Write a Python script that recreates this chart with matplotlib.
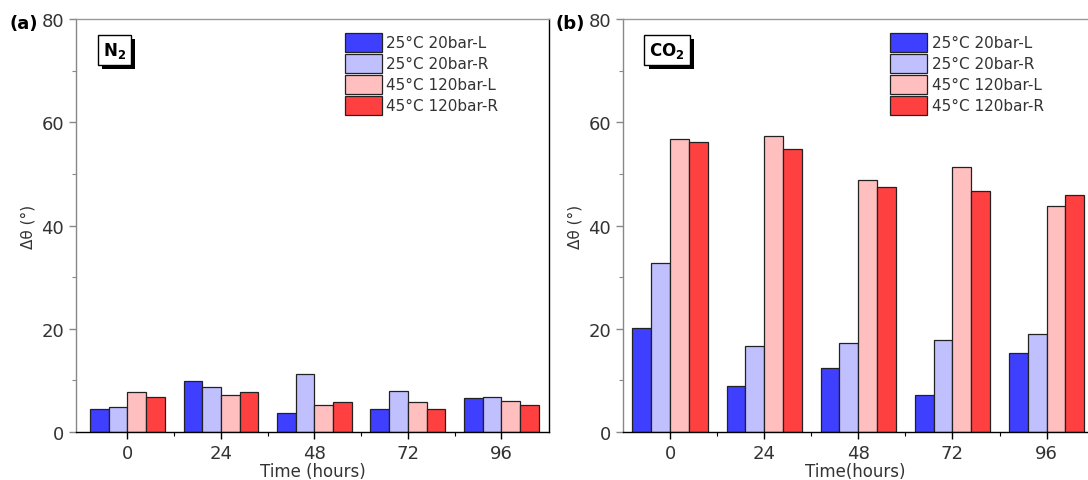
import matplotlib
matplotlib.use("Agg")
import matplotlib.pyplot as plt
import matplotlib.patheffects as pe
import numpy as np

# data
hours = ["0", "24", "48", "72", "96"]
series = ["25°C 20bar-L", "25°C 20bar-R", "45°C 120bar-L", "45°C 120bar-R"]
colors = ["#3f3fff", "#c0c0ff", "#ffbfbf", "#ff4040"]

n2_vals = [
    [4.5, 9.8, 3.6, 4.5, 6.6],    # 25C 20bar-L
    [4.8, 8.7, 11.2, 7.9, 6.8],   # 25C 20bar-R
    [7.7, 7.2, 5.2, 5.8, 6.1],    # 45C 120bar-L
    [6.8, 7.7, 5.8, 4.5, 5.2],    # 45C 120bar-R
]
co2_vals = [
    [20.2, 9.0, 12.4, 7.2, 15.4],
    [32.8, 16.6, 17.2, 17.8, 19.0],
    [56.7, 57.4, 48.9, 51.3, 43.7],
    [56.1, 54.8, 47.5, 46.7, 45.9],
]

plt.rcParams["font.family"] = "DejaVu Sans"

fig = plt.figure(figsize=(10.88, 4.81), dpi=100)
ax_a = fig.add_axes([0.0699, 0.0998, 0.4347, 0.8585])
ax_b = fig.add_axes([0.5726, 0.0998, 0.4274, 0.8585])

x = np.arange(len(hours))
w = 0.2


def draw(ax, vals, gas, xlabel, xlim, leg_x):
    for i, v in enumerate(vals):
        ax.bar(x + (i - 1.5) * w, v, w, color=colors[i], edgecolor="#222222",
               linewidth=0.9, label=series[i])
    ax.set_xlim(*xlim)
    ax.set_ylim(0, 80)
    ax.set_xticks(x)
    ax.set_xticklabels(hours)
    ax.set_xticks(x[:-1] + 0.5, minor=True)
    ax.set_yticks([0, 20, 40, 60, 80])
    ax.set_yticks([10, 30, 50, 70], minor=True)
    ax.tick_params(which="major", direction="out", length=5, width=1,
                   labelsize=13, labelcolor="#333333")
    ax.tick_params(which="minor", direction="out", length=3, width=0.8)
    ax.tick_params(axis="y", which="both", color="#888888")
    ax.spines["top"].set_color("#999999")
    ax.spines["left"].set_color("#888888")
    ax.spines["right"].set_color("black")
    for s in ax.spines.values():
        s.set_linewidth(1)
    ax.set_ylabel("Δθ (°)", fontsize=11, color="#333333", labelpad=4)
    ax.set_xlabel(xlabel, fontsize=12, color="#333333", labelpad=0)
    ax.legend(loc="upper left", bbox_to_anchor=(leg_x, 0.967), frameon=False,
              fontsize=11, handlelength=2.4, handleheight=1.55,
              labelspacing=0.12, handletextpad=0.3, borderpad=0,
              borderaxespad=0, labelcolor="#333333")
    t = ax.text(0.057, 0.925, gas, transform=ax.transAxes, fontsize=12,
                fontweight="bold", ha="left", va="center",
                bbox=dict(boxstyle="square,pad=0.3", facecolor="white",
                          edgecolor="black", linewidth=1))
    t.get_bbox_patch().set_path_effects([
        pe.SimplePatchShadow(offset=(3, -3), shadow_rgbFace="black", alpha=1),
        pe.Normal()])


draw(ax_a, n2_vals, "N$_\\mathbf{2}$", "Time (hours)", (-0.55, 4.51), 0.569)
draw(ax_b, co2_vals, "CO$_\\mathbf{2}$", "Time(hours)", (-0.50, 4.44), 0.575)
ax_b.spines["right"].set_visible(False)

fig.text(0.009, 0.951, "(a)", fontsize=13, fontweight="bold", va="center")
fig.text(0.511, 0.951, "(b)", fontsize=13, fontweight="bold", va="center")

fig.savefig("out.png", dpi=100)
